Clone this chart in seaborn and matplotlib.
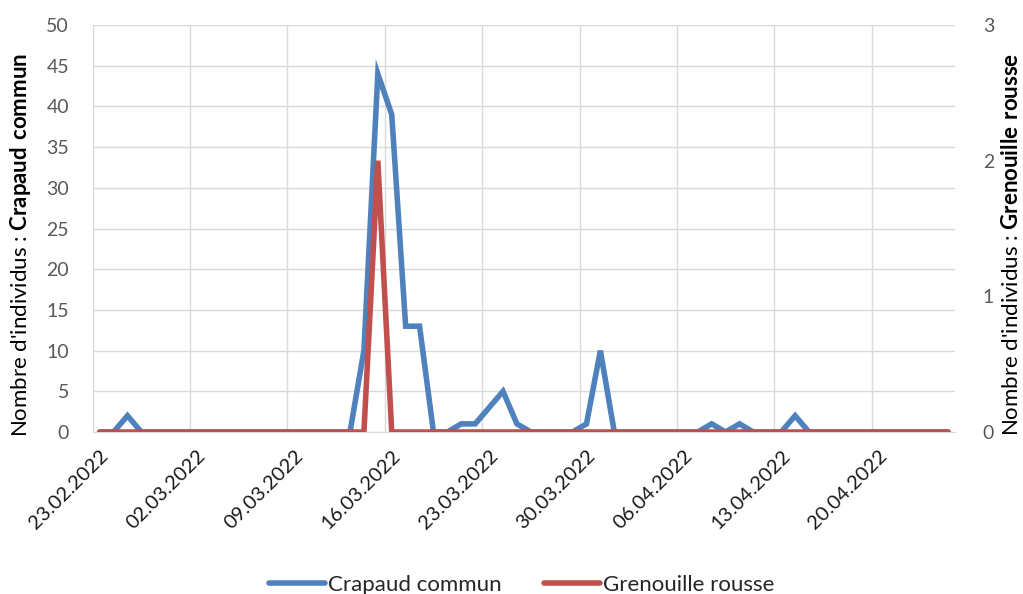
import pandas as pd
import matplotlib
matplotlib.use("Agg")
import matplotlib.pyplot as plt
import seaborn as sns

# daily counts from 23.02.2022 (62 days)
start_date = "2022-02-23"
n_days = 62
crapaud = [0, 0, 2, 0, 0, 0, 0, 0, 0, 0,
           0, 0, 0, 0, 0, 0, 0, 0, 0, 10,
           44, 39, 13, 13, 0, 0, 1, 1, 3, 5,
           1, 0, 0, 0, 0, 1, 10, 0, 0, 0,
           0, 0, 0, 0, 1, 0, 1, 0, 0, 0,
           2, 0, 0, 0, 0, 0, 0, 0, 0, 0,
           0, 0]
grenouille = [0] * 20 + [2] + [0] * 41
series_names = ["Crapaud commun", "Grenouille rousse"]
left_ticks = [0, 5, 10, 15, 20, 25, 30, 35, 40, 45, 50]
right_ticks = [0, 1, 2, 3]

dates = pd.date_range(start_date, periods=n_days, freq="D")
df = pd.DataFrame({"date": dates, "crapaud": crapaud, "grenouille": grenouille})

sns.set_style("white")
plt.rcParams["font.family"] = ["Lato", "DejaVu Sans"]
plt.rcParams["mathtext.fontset"] = "custom"
plt.rcParams["mathtext.rm"] = "Lato"
plt.rcParams["mathtext.bf"] = "Lato:bold"

blue = "#4F81BD"
red = "#C0504D"
grid_c = "#D9D9D9"
tick_c = "#595959"

fig = plt.figure(figsize=(10.23, 5.94), dpi=100)
ax = fig.add_axes([0.0906, 0.2727, 0.843, 0.6852])
ax2 = ax.twinx()

sns.lineplot(data=df, x="date", y="crapaud", ax=ax, color=blue, lw=4,
             label=series_names[0], legend=False)
sns.lineplot(data=df, x="date", y="grenouille", ax=ax2, color=red, lw=4,
             label=series_names[1], legend=False)
for a in (ax, ax2):
    for ln in a.get_lines():
        ln.set_solid_capstyle("round")
        ln.set_solid_joinstyle("miter")

half = pd.Timedelta(hours=12)
ax.set_xlim(dates[0] - half, dates[-1] + half)
ax.set_ylim(0, 50)
ax2.set_ylim(0, 3)
ax.set_yticks(left_ticks)
ax2.set_yticks(right_ticks)

# weekly labels at day centres, gridlines at week boundaries
ax.set_xticks(dates[::7])
ax.set_xticklabels([d.strftime("%d.%m.%Y") for d in dates[::7]],
                   rotation=45, ha="right", rotation_mode="anchor")
ax.set_xticks([d - half for d in dates[::7]], minor=True)
ax.tick_params(axis="x", which="major", length=0, pad=11, labelsize=14.5, labelcolor="#1a1a1a")
ax.tick_params(axis="x", which="minor", length=5, color=grid_c, width=1)
ax.tick_params(axis="y", length=0, pad=17, labelsize=14, labelcolor=tick_c)
ax2.tick_params(axis="y", length=0, pad=20, labelsize=14, labelcolor=tick_c)

ax.grid(True, axis="y", color=grid_c, lw=1)
ax.grid(True, axis="x", which="minor", color=grid_c, lw=1)
ax.grid(False, axis="x", which="major")
ax2.grid(False)
for a in (ax, ax2):
    for s in a.spines.values():
        s.set_visible(False)
ax.spines["bottom"].set_visible(True)
ax.spines["bottom"].set_color(grid_c)
ax.spines["left"].set_visible(True)
ax.spines["left"].set_color(grid_c)
ax.set_axisbelow(True)

ax.set_xlabel("")
ax.set_ylabel(r"Nombre d'individus : $\mathbf{Crapaud\ commun}$", fontsize=16, color="black")
ax2.set_ylabel(r"Nombre d'individus : $\mathbf{Grenouille\ rousse}$", fontsize=16, color="black",
               rotation=90, va="top")
ax.yaxis.set_label_coords(-0.069, 0.46)
ax2.yaxis.set_label_coords(1.053, 0.46)

handles = ax.get_lines()[:1] + ax2.get_lines()[:1]
fig.legend(handles, series_names, loc="lower center", bbox_to_anchor=(0.51, -0.035),
           ncol=2, frameon=False, fontsize=16, handlelength=2.5, handletextpad=0.15,
           columnspacing=1.9)

fig.savefig("out.png", dpi=100)
